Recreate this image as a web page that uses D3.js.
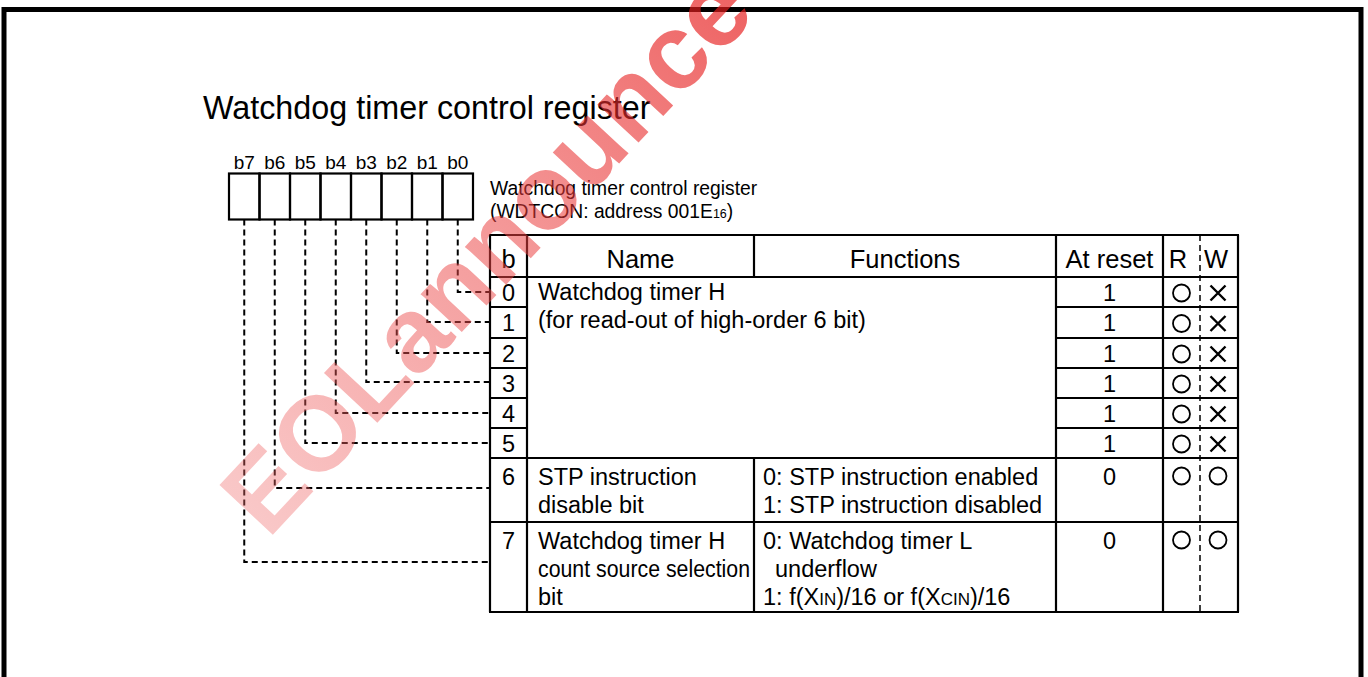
<!DOCTYPE html>
<html>
<head>
<meta charset="utf-8">
<script src="https://cdn.jsdelivr.net/npm/d3@7"></script>
<style>
html,body{margin:0;padding:0;background:#fff;}
svg{display:block;}
text{font-family:"Liberation Sans",Arial,Helvetica,sans-serif;fill:#000;}
</style>
</head>
<body>
<svg id="chart" width="1368" height="677"></svg>
<script>
// ---------- data ----------
const title = "Watchdog timer control register";
const bitLabels = ["b7","b6","b5","b4","b3","b2","b1","b0"];
const registerName = ["Watchdog timer control register", "(WDTCON: address 001E", "16", ")"];
const headers = ["b","Name","Functions","At reset","R","W"];
const rowBits = ["0","1","2","3","4","5","6","7"];
const atReset = ["1","1","1","1","1","1","0","0"];
const readMarks = ["O","O","O","O","O","O","O","O"];
const writeMarks = ["X","X","X","X","X","X","O","O"];
const nameTexts = [
  ["Watchdog timer H","(for read-out of high-order 6 bit)"],
  ["STP instruction","disable bit"],
  ["Watchdog timer H","count source selection","bit"]
];
const functionTexts = [
  [],
  [[["0: STP instruction enabled"]],[["1: STP instruction disabled"]]],
  [[["0: Watchdog timer L"]],[["underflow"]],[["1: f(X"],["IN","s"],[")/16 or f(X"],["CIN","s"],[")/16"]]]
];
const watermark = "EOLannounce";

// ---------- layout ----------
const svg = d3.select("#chart");

function stext(g, x, y, str, size, anchor, sx) {
  return g.append("text")
    .attr("transform", `translate(${x},${y}) scale(${sx||1},1)`)
    .attr("font-size", size)
    .attr("text-anchor", anchor || "start")
    .text(str);
}

// frame
svg.append("rect").attr("x",4).attr("y",9.5).attr("width",1357).attr("height",720)
  .attr("fill","none").attr("stroke","#000").attr("stroke-width",5);

// title
stext(svg, 203, 119, title, 32.3, "start");

// register box
const xBit = d3.scaleBand().domain(bitLabels).range([229, 473]);
const boxTop = 173.5, boxBot = 219.5;
const g = svg.append("g");
bitLabels.forEach(b => {
  stext(g, xBit(b) + xBit.bandwidth()/2, 169, b, 19, "middle");
});
g.selectAll("rect.cell").data(bitLabels).join("rect")
  .attr("class","cell")
  .attr("x", d => xBit(d)).attr("y", boxTop)
  .attr("width", xBit.bandwidth()).attr("height", boxBot - boxTop)
  .attr("fill","none").attr("stroke","#000").attr("stroke-width",2.2);

// register name text
{
  stext(svg, 490, 195, registerName[0], 19.3, "start");
  const t2 = svg.append("text").attr("transform","translate(490,218)").attr("font-size",19.3);
  t2.append("tspan").text(registerName[1]);
  t2.append("tspan").attr("font-size",12.5).text(registerName[2]);
  t2.append("tspan").text(registerName[3]);
}

// table geometry
const colX = [490, 527, 754, 1056, 1163, 1200, 1238];
const tableTop = 235, headBot = 277;
const rowEdges = [277, 307, 338, 368, 398, 428, 458, 522, 612];
const yRow = d3.scaleOrdinal().domain(rowBits).range(rowBits.map((d,i)=>rowEdges[i]));
const rowH = i => rowEdges[i+1] - rowEdges[i];

const lines = svg.append("g").attr("stroke","#000").attr("stroke-width",2.2).attr("fill","none");
function hl(x1,x2,y){ lines.append("line").attr("x1",x1).attr("x2",x2).attr("y1",y).attr("y2",y); }
function vl(x,y1,y2){ lines.append("line").attr("x1",x).attr("x2",x).attr("y1",y1).attr("y2",y2); }

const tableBot = rowEdges[8];
hl(colX[0]-1, colX[6]+1, tableTop);
hl(colX[0]-1, colX[6]+1, headBot);
for (let i = 1; i <= 5; i++) {
  hl(colX[0], colX[1], rowEdges[i]);
  hl(colX[3], colX[6], rowEdges[i]);
}
hl(colX[0]-1, colX[6]+1, rowEdges[6]);
hl(colX[0]-1, colX[6]+1, rowEdges[7]);
hl(colX[0]-1, colX[6]+1, tableBot);
vl(colX[0], tableTop, tableBot);
vl(colX[1], tableTop, tableBot);
vl(colX[2], tableTop, headBot);
vl(colX[2], rowEdges[6], tableBot);
vl(colX[3], tableTop, tableBot);
vl(colX[4], tableTop, tableBot);
vl(colX[6], tableTop, tableBot);
svg.append("line").attr("x1",colX[5]).attr("x2",colX[5]).attr("y1",tableTop).attr("y2",tableBot)
  .attr("stroke","#000").attr("stroke-width",1.5).attr("stroke-dasharray","6,4");

// headers
const headCenters = [(colX[0]+colX[1])/2, (colX[1]+colX[2])/2, (colX[2]+colX[3])/2, (colX[3]+colX[4])/2, 1178, 1216];
headers.forEach((h,i) => stext(svg, headCenters[i], 268, h, 25.5, "middle"));

// rows
const fs = 23.5;
rowBits.forEach((b,i) => {
  const top = yRow(b);
  const baseY = i < 6 ? top + rowH(i)/2 + 8.5 : top + 27;
  stext(svg, (colX[0]+colX[1])/2, baseY, b, fs, "middle");
  stext(svg, (colX[3]+colX[4])/2, baseY, atReset[i], fs, "middle");
  const cy = i < 6 ? top + rowH(i)/2 + 1 : top + 18;
  [[readMarks[i], 1181.5], [writeMarks[i], 1218]].forEach(([m, cx]) => {
    if (m === "O") {
      svg.append("circle").attr("cx",cx).attr("cy",cy).attr("r",8.5)
        .attr("fill","none").attr("stroke","#000").attr("stroke-width",1.8);
    } else {
      const s = 7.5;
      svg.append("path").attr("d",`M${cx-s},${cy-s}L${cx+s},${cy+s}M${cx+s},${cy-s}L${cx-s},${cy+s}`)
        .attr("stroke","#000").attr("stroke-width",2.4).attr("fill","none");
    }
  });
});

// name texts
const nameBlocks = [{row:0, lines:nameTexts[0]}, {row:6, lines:nameTexts[1]}, {row:7, lines:nameTexts[2]}];
nameBlocks.forEach(bl => {
  const top = rowEdges[bl.row];
  bl.lines.forEach((ln, j) => {
    const t = stext(svg, 538, top + 23 + j*28 + (bl.row===0?0:4), ln, fs);
    if (ln === "count source selection") t.attr("textLength", 212).attr("lengthAdjust","spacingAndGlyphs");
  });
});

// function texts
[[6, functionTexts[1]], [7, functionTexts[2]]].forEach(([row, block]) => {
  const top = rowEdges[row];
  block.forEach((parts, j) => {
    const indent = (row === 7 && j === 1) ? 12 : 0;
    const t = svg.append("text")
      .attr("transform", `translate(${763+indent},${top + 27 + j*28})`)
      .attr("font-size", fs);
    parts.forEach(p => {
      const ts = t.append("tspan").text(p[0]);
      if (p[1] === "s") ts.attr("font-size", 17);
    });
  });
});

// connectors
const conn = svg.append("g").attr("stroke","#000").attr("stroke-width",2).attr("fill","none")
  .attr("stroke-dasharray","6,4");
const connY = [292, 322, 353, 382, 413, 443, 488, 562];
bitLabels.slice().reverse().forEach((b,i) => {
  const x = xBit(b) + xBit.bandwidth()/2;
  conn.append("path").attr("d", `M${x},${boxBot}V${connY[i]}H${colX[0]}`);
});

// watermark
const defs = svg.append("defs");
const grad = defs.append("linearGradient").attr("id","wm").attr("x1","0%").attr("x2","100%");
grad.append("stop").attr("offset","0%").attr("stop-color","rgb(240,110,110)").attr("stop-opacity",0.38);
grad.append("stop").attr("offset","100%").attr("stop-color","rgb(230,25,25)").attr("stop-opacity",0.68);
svg.append("text")
  .attr("transform","translate(268,540) rotate(-47)")
  .attr("font-size",106).attr("font-weight","bold")
  .style("fill","url(#wm)")
  .text(watermark);
</script>
</body>
</html>
